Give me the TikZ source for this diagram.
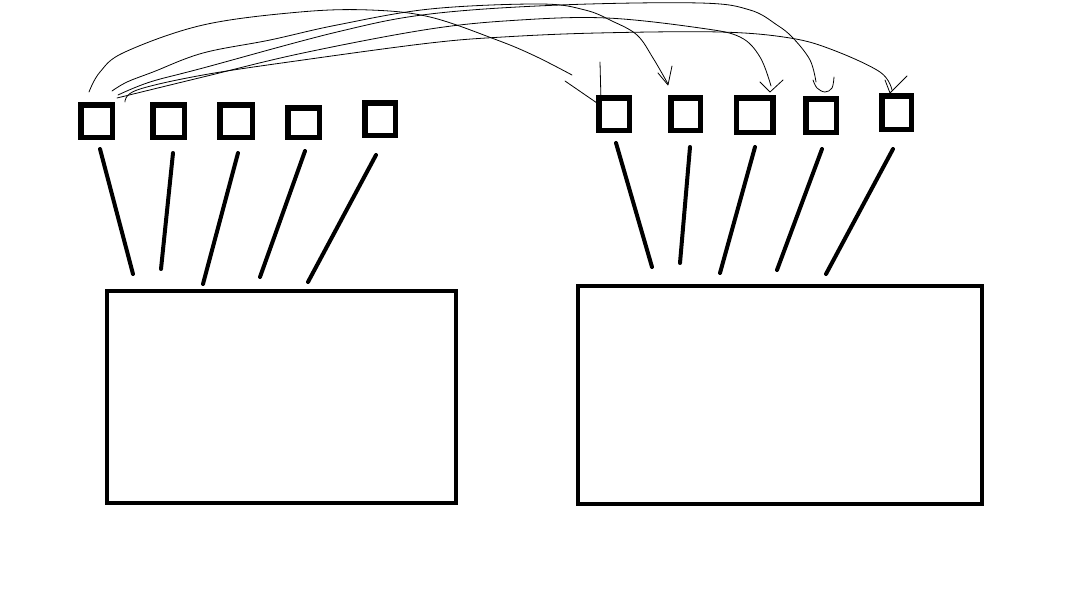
\documentclass[tikz,border=0pt]{standalone}
\begin{document}
\begin{tikzpicture}[x=1pt,y=-1pt,
  sq/.style={draw=black,line width=5.5pt,inner sep=0pt,fill=white},
  big/.style={draw=black,line width=4pt,inner sep=0pt},
  leg/.style={line width=4pt,line cap=round},
  thin/.style={line width=0.8pt,line join=round,line cap=round}]
\fill[white] (0,0) rectangle (1079,590);
\useasboundingbox (0,0) rectangle (1079,590);
% big boxes
\node[big,minimum width=349pt,minimum height=212pt] (L) at (281.5,397) {};
\node[big,minimum width=404pt,minimum height=218pt] (R) at (780,395) {};
% left squares
\node[sq,minimum width=31.5pt,minimum height=32.5pt] (l1) at (96.5,121) {};
\node[sq,minimum width=31.5pt,minimum height=32.5pt] (l2) at (168.5,121) {};
\node[sq,minimum width=32.5pt,minimum height=32.5pt] (l3) at (236,121) {};
\node[sq,minimum width=31.5pt,minimum height=29.5pt] (l4) at (303.5,122.5) {};
\node[sq,minimum width=30.5pt,minimum height=32.5pt] (l5) at (380,119) {};
% right squares
\node[sq,minimum width=30.5pt,minimum height=32.5pt] (r1) at (614,114) {};
\node[sq,minimum width=29.5pt,minimum height=32.5pt] (r2) at (685.5,114) {};
\node[sq,minimum width=36.5pt,minimum height=34.5pt] (r3) at (754.5,115) {};
\node[sq,minimum width=30.5pt,minimum height=33.5pt] (r4) at (821,115.5) {};
\node[sq,minimum width=29.5pt,minimum height=33.5pt] (r5) at (896.5,112.5) {};
% legs left
\draw[leg] (100,149) -- (133,274);
\draw[leg] (173,153) -- (161,269);
\draw[leg] (238,153) -- (203,284);
\draw[leg] (305,151) -- (260,277);
\draw[leg] (376,155) -- (308,282);
% legs right
\draw[leg] (616,143) -- (652,267);
\draw[leg] (690,147) -- (680,263);
\draw[leg] (755,147) -- (720,273);
\draw[leg] (822,149) -- (777,270);
\draw[leg] (893,149) -- (826,274);
% curves
\draw[thin] plot[smooth,tension=0.6] coordinates {(89,92) (100,72) (125,52) (203,25) (300,12) (370,10) (430,17) (497,40) (535,56) (572,75)};
\draw[thin] (565,81) -- (597,103);
\draw[thin] (600,62) -- (601,101);
\draw[thin] plot[smooth,tension=0.6] coordinates {(112,91) (127,82) (153,72) (203,53) (270,40) (337,25) (430,9) (540,4) (585,10) (612,21) (637,35) (653,58) (668,84)};
\draw[thin] (658,73) -- (668,85) -- (672,66);
\draw[thin] plot[smooth,tension=0.6] coordinates {(117,98) (203,77) (303,53) (430,29) (520,20) (607,18) (700,28) (740,37) (760,57) (771,86)};
\draw[thin] (760,82) -- (770,92) -- (783,80);
\draw[thin] plot[smooth,tension=0.6] coordinates {(118,95) (150,82) (203,68) (337,32) (430,14) (560,5) (700,3) (750,10) (777,25) (793,38) (810,60) (816,82)};
\draw[thin] plot[smooth,tension=0.6] coordinates {(813,80) (817,88) (825,92) (832,88) (834,77)};
\draw[thin] plot[smooth,tension=0.6] coordinates {(125,102) (137,90) (203,75) (303,60) (430,43) (503,37) (597,33) (720,32) (790,38) (833,50) (880,72) (892,90)};
\draw[thin] (885,80) -- (890,93) -- (907,76);
\end{tikzpicture}
\end{document}
